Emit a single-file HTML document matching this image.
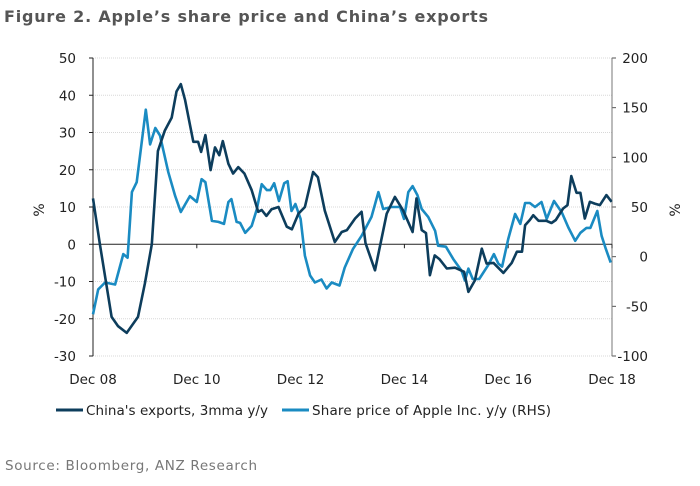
<!DOCTYPE html>
<html><head><meta charset="utf-8"><style>
body{margin:0;background:#fff;width:700px;height:486px;overflow:hidden}
svg{display:block}
text{font-family:"DejaVu Sans","Liberation Sans",sans-serif}
</style></head><body>
<svg id="chart" width="700" height="486">
<text x="4" y="22" font-size="16" font-weight="bold" fill="#555" textLength="484">Figure 2. Apple’s share price and China’s exports</text>
<g id="grid"></g><g id="axes"></g><g id="series"></g>
<text transform="translate(44,210) rotate(-90)" font-size="14" fill="#222" text-anchor="middle">%</text>
<text transform="translate(680,210) rotate(-90)" font-size="14" fill="#222" text-anchor="middle">%</text>
<g>
<line x1="56" y1="410" x2="83" y2="410" stroke="#0d3d5c" stroke-width="3"/>
<text x="86" y="415" font-size="13.5" fill="#222" textLength="182">China's exports, 3mma y/y</text>
<line x1="282" y1="410" x2="309" y2="410" stroke="#1a8bc2" stroke-width="3"/>
<text x="312" y="415" font-size="13.5" fill="#222" textLength="239">Share price of Apple Inc. y/y (RHS)</text>
</g>
<text x="5" y="470" font-size="13.5" fill="#777" textLength="252">Source: Bloomberg, ANZ Research</text>
</svg>
<script>
const xTickLabels=["Dec 08","Dec 10","Dec 12","Dec 14","Dec 16","Dec 18"];
const leftTicks=[50,40,30,20,10,0,-10,-20,-30];
const rightTicks=[200,150,100,50,0,-50,-100];
const chinaMonths=[0,1.6,4.3,5.8,7.8,10.4,12,13.6,15,16.6,18.2,19.3,20.3,21.3,23.2,24.3,25,26,27.2,28.2,29.2,30,31.3,32.4,33.6,35,36.7,38.2,39,40.1,41.3,42.9,44.8,46,47.5,49,50.9,52,53.6,55.9,57.5,58.7,60.6,62.1,63,65.2,67.9,69.8,71.7,73.9,74.8,76,77,77.9,79,80.1,81.8,83.7,85.8,86.8,88.3,89.9,91,92.6,94.9,96.8,98,99.2,99.9,101,101.8,103,104.8,106,107,108.7,109.7,110.6,111.8,112.7,113.7,114.9,116,117.2,118.7,119.9];
const chinaValues=[12.3,0,-19.5,-22,-23.8,-19.5,-10.5,0,25,30.5,34,41,43,38.7,27.5,27.5,24.8,29.3,19.9,26,23.9,27.7,21.6,19,20.7,19,14.5,8.7,9.2,7.6,9.4,10,4.7,4,8.2,10,19.4,18,9,0.6,3.3,3.8,6.9,8.7,0.3,-7,8.2,12.7,9.1,3.3,12.3,3.8,3,-8.3,-3,-4,-6.5,-6.3,-7.4,-12.8,-9.7,-1.2,-5.2,-5,-7.7,-5,-2,-2,5.1,6.5,7.8,6.3,6.3,5.7,6.5,9.6,10.5,18.3,13.8,13.8,6.9,11.4,10.9,10.5,13.2,11.4];
const appleMonths=[0,1.2,2.8,5.1,7,8,9,10.1,12.2,13.2,14.4,15.5,17.4,19,20.3,22.4,24,25.1,26,27.5,29,30.3,31.3,32,33.2,34,35.2,36.7,37.9,39,40.2,41,41.9,43,44.2,45,45.9,46.8,48,49,50.2,51.3,52.8,54,55.2,57,58.2,60.1,62.1,64.4,66,67.1,69,71,71.9,72.9,73.9,75,76,77.5,79.1,79.8,81.6,83.3,85.2,86,86.8,87.8,89.3,91.3,92.7,93.7,94.6,96,97.6,98.8,99.9,101,102.2,103.7,104.9,106.6,108.4,109.9,111.5,112.7,114.1,115,116.6,117.6,118.6,119.7];
const appleValues=[-58,-33,-26,-28,2.6,-1,65,75,148,113,129.5,122,85,61,45,61,55,78,75,36,35,33,55,58,35,34,24,31,48,73,67,67,74,56,74,76,46,53,38,1,-19,-26,-23,-32,-26,-29,-11,7.6,21,40,65,48,50,50,38,65,71,62,48,40,26,11,10,-2.4,-14,-24,-12,-22.5,-22.5,-9,2.6,-7,-10,17.7,43,33,54,54,50,55,38,56,44.6,29.5,16,24,29,29,46,21,7.6,-6];
const NS="http://www.w3.org/2000/svg";
const X0=93,X1=612,Ytop=58,Ybot=356;
const xs=m=>X0+(X1-X0)*m/120;
const yL=v=>Ytop+(50-v)*(Ybot-Ytop)/80;
const yR=v=>Ytop+(200-v)*(Ybot-Ytop)/300;
function mk(t,a,p){const e=document.createElementNS(NS,t);for(const k in a)e.setAttribute(k,a[k]);p.appendChild(e);return e;}
const grid=document.getElementById('grid'),axes=document.getElementById('axes'),ser=document.getElementById('series');
leftTicks.forEach(v=>{
 if(v!==0){const g=mk('line',{x1:X0,x2:X1,y1:yL(v),y2:yL(v),stroke:'#d8d8d8','stroke-dasharray':'1,1'},grid);
 
 }
 mk('line',{x1:X0-4,x2:X0,y1:yL(v),y2:yL(v),stroke:'#222'},axes);
 const t=mk('text',{x:X0-17,y:yL(v)+5,'font-size':13.5,fill:'#222','text-anchor':'end'},axes);t.textContent=v;
 
 
});
rightTicks.forEach(v=>{
 mk('line',{x1:X1,x2:X1+4,y1:yR(v),y2:yR(v),stroke:'#555'},axes);
 const t=mk('text',{x:X1+36,y:yR(v)+5,'font-size':13.5,fill:'#222','text-anchor':'end'},axes);t.textContent=v;
 
 
});
mk('line',{x1:X0,x2:X0,y1:Ytop,y2:Ybot,stroke:'#222'},axes);
mk('line',{x1:X1,x2:X1,y1:Ytop,y2:Ybot,stroke:'#777'},axes);
mk('line',{x1:X0,x2:X1,y1:yL(0),y2:yL(0),stroke:'#222'},axes);
xTickLabels.forEach((s,i)=>{
 const x=xs(i*24);
 mk('line',{x1:x,x2:x,y1:yL(0),y2:yL(0)+4,stroke:'#222'},axes);
 const t=mk('text',{x:x,y:384,'font-size':13.5,fill:'#222','text-anchor':'middle'},axes);t.textContent=s;
 
 
});
function line(ms,vs,yf,c,name){
 const d=ms.map((m,i)=>(i?'L':'M')+xs(m).toFixed(1)+','+yf(vs[i]).toFixed(1)).join('');
 const p=mk('path',{d:d,fill:'none',stroke:c,'stroke-width':2.6,'stroke-linejoin':'round'},ser);
 
 
}
line(appleMonths,appleValues,yR,'#1a8bc2','apple-share-price-line');
line(chinaMonths,chinaValues,yL,'#0d3d5c','china-exports-line');
</script>
</body></html>
